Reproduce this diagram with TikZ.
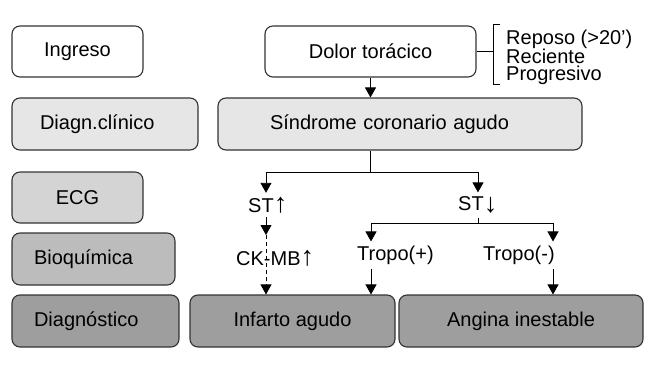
\documentclass[tikz,border=0pt]{standalone}
\usepackage{fontspec}
\setmainfont{Liberation Sans}
\usetikzlibrary{arrows.meta}

\definecolor{clinfill}{HTML}{E6E6E6}
\definecolor{ecgfill}{HTML}{D4D4D4}
\definecolor{bioqfill}{HTML}{BCBCBC}
\definecolor{diagfill}{HTML}{9E9E9E}

\newcommand{\subir}{{\fontsize{27}{22}\selectfont\bfseries↑}}
\newcommand{\bajar}{{\fontsize{27}{22}\selectfont\bfseries\raisebox{-2pt}{↓}}}

\begin{document}
\begin{tikzpicture}[x=1pt,y=-1pt,
	box/.style={draw=black!80,line width=1.1pt,rounded corners=8pt,inner sep=0pt,
		font=\fontsize{20}{22}\selectfont},
	lbl/.style={font=\fontsize{20}{22}\selectfont,inner xsep=0pt,inner ysep=4pt},
	ln/.style={line width=0.9pt},
	arr/.style={line width=0.9pt,-{Triangle[length=10pt,width=11pt]}}]

\useasboundingbox (0,0) rectangle (661,375);

% The levels on the left
\node[box,minimum width=131pt,minimum height=51pt] (ingreso) at (77.5,51.5) {Ingreso};
\node[box,fill=clinfill,minimum width=186pt,minimum height=52pt,text width=130pt,align=left] (diagclin) at (105,124) {Diagn.clínico};
\node[box,fill=ecgfill,minimum width=131pt,minimum height=51pt] (ecg) at (77.5,197.5) {ECG};
\node[box,fill=bioqfill,minimum width=163pt,minimum height=52pt,text width=119pt,align=left] (bioq) at (93.5,259) {Bioquímica};
\node[box,fill=diagfill,minimum width=167pt,minimum height=52pt,text width=123pt,align=left] (diagn) at (95.5,321) {Diagnóstico};

% The boxes of the pathway
\node[box,minimum width=211pt,minimum height=51pt] (dolor) at (370.5,51.5) {Dolor torácico};
\node[box,fill=clinfill,minimum width=364pt,minimum height=52pt,text width=260pt,align=left] (sindrome) at (400,124) {Síndrome coronario agudo};
\node[box,fill=diagfill,minimum width=205pt,minimum height=52pt] (infarto) at (292.5,321) {Infarto agudo};
\node[box,fill=diagfill,minimum width=244pt,minimum height=52pt] (angina) at (521,321) {Angina inestable};

% The findings
\node[lbl,anchor=west] (stup) at (248,205) {ST\subir};
\node[lbl,anchor=west] (stdown) at (458,205) {ST\bajar};
\node[lbl,anchor=west] (ckmb) at (236,258) {CK-MB\subir};
\node[lbl,anchor=west] (tropop) at (357,255) {Tropo(+)};
\node[lbl,anchor=west] (tropon) at (483,255) {Tropo(-)};

% The features of the pain
\node[anchor=west,inner sep=0pt,align=left,font=\fontsize{20}{16.5}\selectfont] (rasgos) at (506,57) {Reposo (>20’)\\Reciente\\Progresivo};
\coordinate (brk) at (493,54);
\draw[ln] (500,24) -- (493,24) -- (493,84) -- (500,84);
\draw[ln] (dolor.east) -- (dolor.east -| brk);

% The branch points
\coordinate (split) at (370.5,172);
\coordinate (left) at (266,172);
\coordinate (right) at (478,172);
\coordinate (ckin) at (266,235);
\coordinate (fork) at (478,223);
\coordinate (tp) at (371,223);
\coordinate (tn) at (553,223);

\draw[arr] (dolor.south) -- (dolor.south |- sindrome.north);
\draw[ln] (sindrome.south -| split) -- (split);
\draw[arr] (split) -| (stup.north -| left);
\draw[arr] (split) -| (stdown.north -| right);

\draw[arr] (stup.south -| left) -- (ckin);
\draw[arr,dash pattern=on 4pt off 3pt] (ckin) -- (infarto.north -| ckin);

\draw[ln] (stdown.south -| fork) -- (fork);
\draw[arr] (fork) -| (tropop.north -| tp);
\draw[arr] (fork) -| (tropon.north -| tn);
\draw[arr] (tropop.south -| tp) -- (infarto.north -| tp);
\draw[arr] (tropon.south -| tn) -- (angina.north -| tn);

\end{tikzpicture}
\end{document}
